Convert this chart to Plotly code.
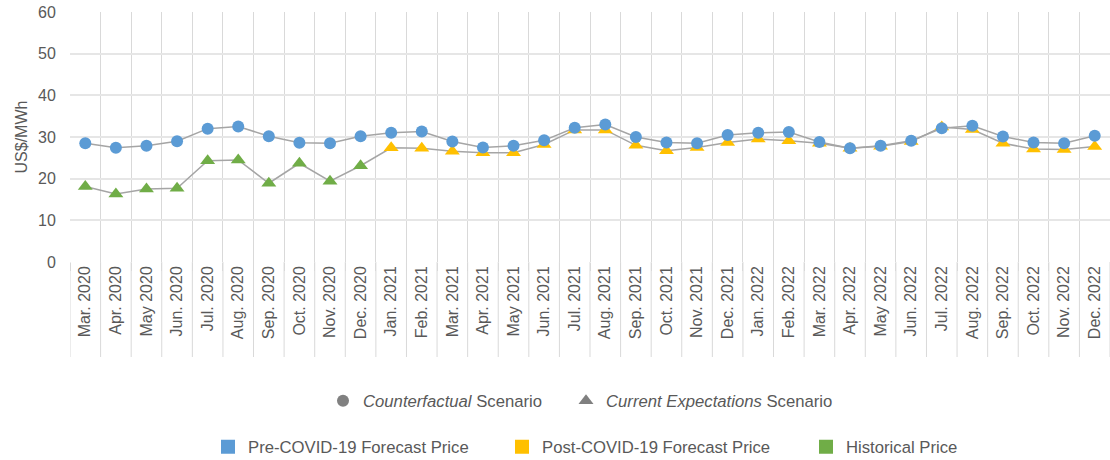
import plotly.graph_objects as go

months = ["Mar. 2020", "Apr. 2020", "May 2020", "Jun. 2020", "Jul. 2020", "Aug. 2020",
          "Sep. 2020", "Oct. 2020", "Nov. 2020", "Dec. 2020",
          "Jan. 2021", "Feb. 2021", "Mar. 2021", "Apr. 2021", "May 2021", "Jun. 2021",
          "Jul. 2021", "Aug. 2021", "Sep. 2021", "Oct. 2021", "Nov. 2021", "Dec. 2021",
          "Jan. 2022", "Feb. 2022", "Mar. 2022", "Apr. 2022", "May 2022", "Jun. 2022",
          "Jul. 2022", "Aug. 2022", "Sep. 2022", "Oct. 2022", "Nov. 2022", "Dec. 2022"]

pre_covid = [28.5, 27.4, 27.9, 29.0, 32.0, 32.5, 30.2, 28.6, 28.5, 30.2,
             31.0, 31.3, 28.9, 27.5, 27.9, 29.2, 32.2, 33.0, 30.0, 28.7, 28.5, 30.5,
             31.0, 31.2, 28.8, 27.3, 27.9, 29.1, 32.1, 32.7, 30.1, 28.7, 28.5, 30.3]

historical = [18.1, 16.3, 17.5, 17.7, 24.3, 24.5, 18.9, 23.7, 19.4, 23.1]

post_covid = [27.4, 27.3, 26.6, 26.2, 26.2, 28.2, 31.7, 31.7, 28.0, 26.7, 27.5, 28.7,
              29.5, 29.1, 28.5, 27.3, 27.8, 28.9, 32.4, 31.8, 28.5, 27.1, 27.0, 27.7]

y_ticks = [0, 10, 20, 30, 40, 50, 60]

BLUE = "#5B9BD5"
YELLOW = "#FFC000"
GREEN = "#70AD47"
LINE_GRAY = "#A5A5A5"
SYM_GRAY = "#808080"
TEXT = "#595959"
FONT = "Liberation Sans, Arial, sans-serif"

n_hist = len(historical)
current_exp = historical + post_covid

fig = go.Figure()

# Current expectations scenario: gray connecting line
fig.add_trace(go.Scatter(x=months, y=current_exp, mode="lines",
                         line=dict(color=LINE_GRAY, width=1.5),
                         showlegend=False, hoverinfo="skip"))
# Historical (green triangles)
fig.add_trace(go.Scatter(x=months[:n_hist], y=historical, mode="markers",
                         marker=dict(symbol="triangle-up", size=13, color=GREEN),
                         showlegend=False))
# Post-COVID forecast (yellow triangles)
fig.add_trace(go.Scatter(x=months[n_hist:], y=post_covid, mode="markers",
                         marker=dict(symbol="triangle-up", size=13, color=YELLOW),
                         showlegend=False))
# Counterfactual scenario (blue circles)
fig.add_trace(go.Scatter(x=months, y=pre_covid, mode="lines+markers",
                         line=dict(color=LINE_GRAY, width=1.5),
                         marker=dict(symbol="circle", size=12, color=BLUE),
                         showlegend=False))

# Legend row 1 (scenarios)
fig.add_trace(go.Scatter(x=[None], y=[None], mode="markers",
                         name="<i>Counterfactual</i> Scenario",
                         marker=dict(symbol="circle", size=12, color=SYM_GRAY),
                         legend="legend", legendwidth=198))
fig.add_trace(go.Scatter(x=[None], y=[None], mode="markers",
                         name="<i>Current Expectations</i> Scenario",
                         marker=dict(symbol="triangle-up", size=13, color=SYM_GRAY),
                         legend="legend"))
# Legend row 2 (series)
fig.add_trace(go.Scatter(x=[None], y=[None], mode="markers",
                         name="Pre-COVID-19 Forecast Price",
                         marker=dict(symbol="square", size=14, color=BLUE),
                         legend="legend2", legendwidth=249))
fig.add_trace(go.Scatter(x=[None], y=[None], mode="markers",
                         name="Post-COVID-19 Forecast Price",
                         marker=dict(symbol="square", size=14, color=YELLOW),
                         legend="legend2", legendwidth=259))
fig.add_trace(go.Scatter(x=[None], y=[None], mode="markers",
                         name="Historical Price",
                         marker=dict(symbol="square", size=14, color=GREEN),
                         legend="legend2"))

# Category boundary lines extending through the tick-label area
shapes = []
for i in range(len(months) + 1):
    shapes.append(dict(type="line", xref="x", yref="paper",
                       x0=i - 0.5, x1=i - 0.5, y0=0, y1=-0.38,
                       line=dict(color="#D9D9D9", width=1), layer="below"))

fig.update_layout(
    width=1110, height=460,
    margin=dict(l=70, r=0, t=12, b=198),
    paper_bgcolor="white", plot_bgcolor="white",
    font=dict(family=FONT, size=16, color=TEXT),
    shapes=shapes,
    xaxis=dict(type="category", categoryorder="array", categoryarray=months,
               range=[-0.5, len(months) - 0.5],
               tickson="boundaries", showgrid=True, gridcolor="#D9D9D9", gridwidth=1,
               ticks="outside", ticklen=8, tickcolor="#D9D9D9",
               tickangle=-90, tickfont=dict(size=16, color=TEXT),
               showline=False, zeroline=False),
    yaxis=dict(range=[0, 60], tickvals=y_ticks, showgrid=True,
               gridcolor="#E6E6E6", gridwidth=1.5, zeroline=False,
               ticks="outside", ticklen=10, tickcolor="rgba(0,0,0,0)",
               tickfont=dict(size=16, color=TEXT),
               title=dict(text="US$/MWh", font=dict(size=16, color=TEXT), standoff=6)),
    legend=dict(orientation="h", xref="container", yref="container",
                x=323 / 1110, y=1 - 401 / 460, xanchor="left", yanchor="middle",
                font=dict(size=16.7, color=TEXT), bgcolor="rgba(0,0,0,0)",
                itemsizing="trace"),
    legend2=dict(orientation="h", xref="container", yref="container",
                 x=208 / 1110, y=1 - 447 / 460, xanchor="left", yanchor="middle",
                 font=dict(size=16.7, color=TEXT), bgcolor="rgba(0,0,0,0)",
                 itemsizing="trace"),
    showlegend=True,
)

fig.write_html("out.html",
               config={"displayModeBar": False},
               post_script="document.body.style.margin='0px';"
                           "document.body.style.overflow='hidden';")
